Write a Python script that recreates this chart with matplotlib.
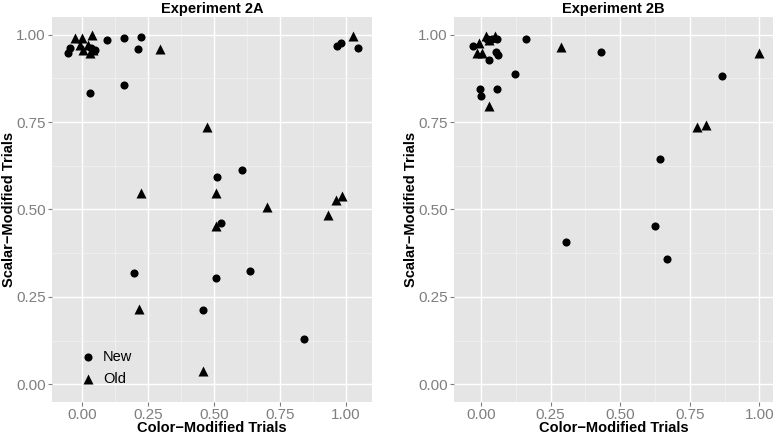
import numpy as np
import matplotlib
matplotlib.use("Agg")
from matplotlib import pyplot as plt
from matplotlib.ticker import MultipleLocator

# Experiment 2A
a_new_x = [-0.053, -0.044, 0.05, 0.035, 0.031, 0.095, 0.16, 0.226, 0.214, 0.161,
           0.966, 0.981, 1.045, 0.607, 0.514, 0.527, 0.638, 0.509, 0.199, 0.461, 0.843]
a_new_y = [0.947, 0.961, 0.956, 0.963, 0.833, 0.985, 0.99, 0.994, 0.959, 0.855,
           0.968, 0.975, 0.963, 0.613, 0.592, 0.461, 0.324, 0.305, 0.319, 0.211, 0.128]
a_old_x = [-0.025, 0.0, 0.038, -0.006, 0.006, 0.025, 0.044, 0.031, 0.297, 0.476,
           0.225, 0.507, 0.701, 0.985, 0.963, 0.934, 0.507, 1.029, 0.218, 0.458]
a_old_y = [0.991, 0.991, 1.0, 0.97, 0.956, 0.97, 0.956, 0.947, 0.959, 0.737,
           0.548, 0.546, 0.506, 0.539, 0.527, 0.484, 0.454, 0.997, 0.215, 0.038]

# Experiment 2B
b_new_x = [-0.028, -0.004, 0.0, 0.029, 0.056, 0.054, 0.062, 0.02, 0.038, 0.059,
           0.122, 0.163, 0.43, 0.307, 0.642, 0.626, 0.668, 0.866]
b_new_y = [0.968, 0.844, 0.825, 0.928, 0.845, 0.951, 0.942, 0.987, 0.987, 0.987,
           0.888, 0.987, 0.951, 0.406, 0.643, 0.453, 0.357, 0.882]
b_old_x = [0.017, 0.05, -0.006, -0.013, 0.002, 0.029, 0.287, 0.777, 0.81, 1.0, 0.03]
b_old_y = [0.996, 0.997, 0.976, 0.949, 0.949, 0.797, 0.966, 0.735, 0.743, 0.949, 0.985]

ticks = [0.0, 0.25, 0.5, 0.75, 1.0]
tick_labels = ["0.00", "0.25", "0.50", "0.75", "1.00"]

plt.rcParams['font.family'] = ['Liberation Sans', 'DejaVu Sans']

fig = plt.figure(figsize=(7.77, 4.37), dpi=100)
W, H = 777, 437


def panel(rect_px, xlim, title, ylab_x, new_x, new_y, old_x, old_y, legend=False):
    l, r, t, b = rect_px
    ax = fig.add_axes([l / W, 1 - b / H, (r - l) / W, (b - t) / H])
    ax.set_facecolor('#E5E5E5')
    for s in ax.spines.values():
        s.set_visible(False)
    ax.set_xlim(*xlim)
    ax.set_ylim(-0.05, 1.0515)
    ax.set_xticks(ticks)
    ax.set_xticklabels(tick_labels)
    ax.set_yticks(ticks)
    ax.set_yticklabels(tick_labels)
    ax.xaxis.set_minor_locator(MultipleLocator(0.125))
    ax.yaxis.set_minor_locator(MultipleLocator(0.125))
    ax.grid(True, which='major', color='white', linewidth=1.0)
    ax.grid(True, which='minor', color='#F2F2F2', linewidth=0.5)
    ax.set_axisbelow(True)
    ax.tick_params(which='major', length=3, width=0.8, color='#7F7F7F',
                   labelcolor='#7F7F7F', labelsize=11, pad=1.5)
    ax.tick_params(which='minor', length=0)
    ax.scatter(new_x, new_y, marker='o', s=34, color='black', linewidths=0, label='New')
    ax.scatter(old_x, old_y, marker='^', s=52, color='black', linewidths=0, label='Old')
    ax.set_title(title, fontsize=10.5, fontweight='bold', pad=3)
    ax.set_xlabel("Color\u2212Modified Trials", fontsize=10.5, fontweight='bold', labelpad=-0.5)
    ax.set_ylabel("Scalar\u2212Modified Trials", fontsize=10.5, fontweight='bold')
    ax.yaxis.label.set_va('center')
    ax.yaxis.set_label_coords((ylab_x - l) / (r - l), 0.5)
    if legend:
        ax.legend(loc='lower left', bbox_to_anchor=(0.05, 0.025), frameon=False,
                  fontsize=10.5, handletextpad=0.0, labelspacing=0.55,
                  borderaxespad=0, scatterpoints=1)
    return ax


panel((52, 372, 16.7, 401.7), (-0.1125, 1.0996), "Experiment 2A", 9,
      a_new_x, a_new_y, a_old_x, a_old_y, legend=True)
panel((454, 772.7, 16.7, 401.7), (-0.097, 1.048), "Experiment 2B", 411,
      b_new_x, b_new_y, b_old_x, b_old_y)

fig.savefig("out.png", dpi=100)
